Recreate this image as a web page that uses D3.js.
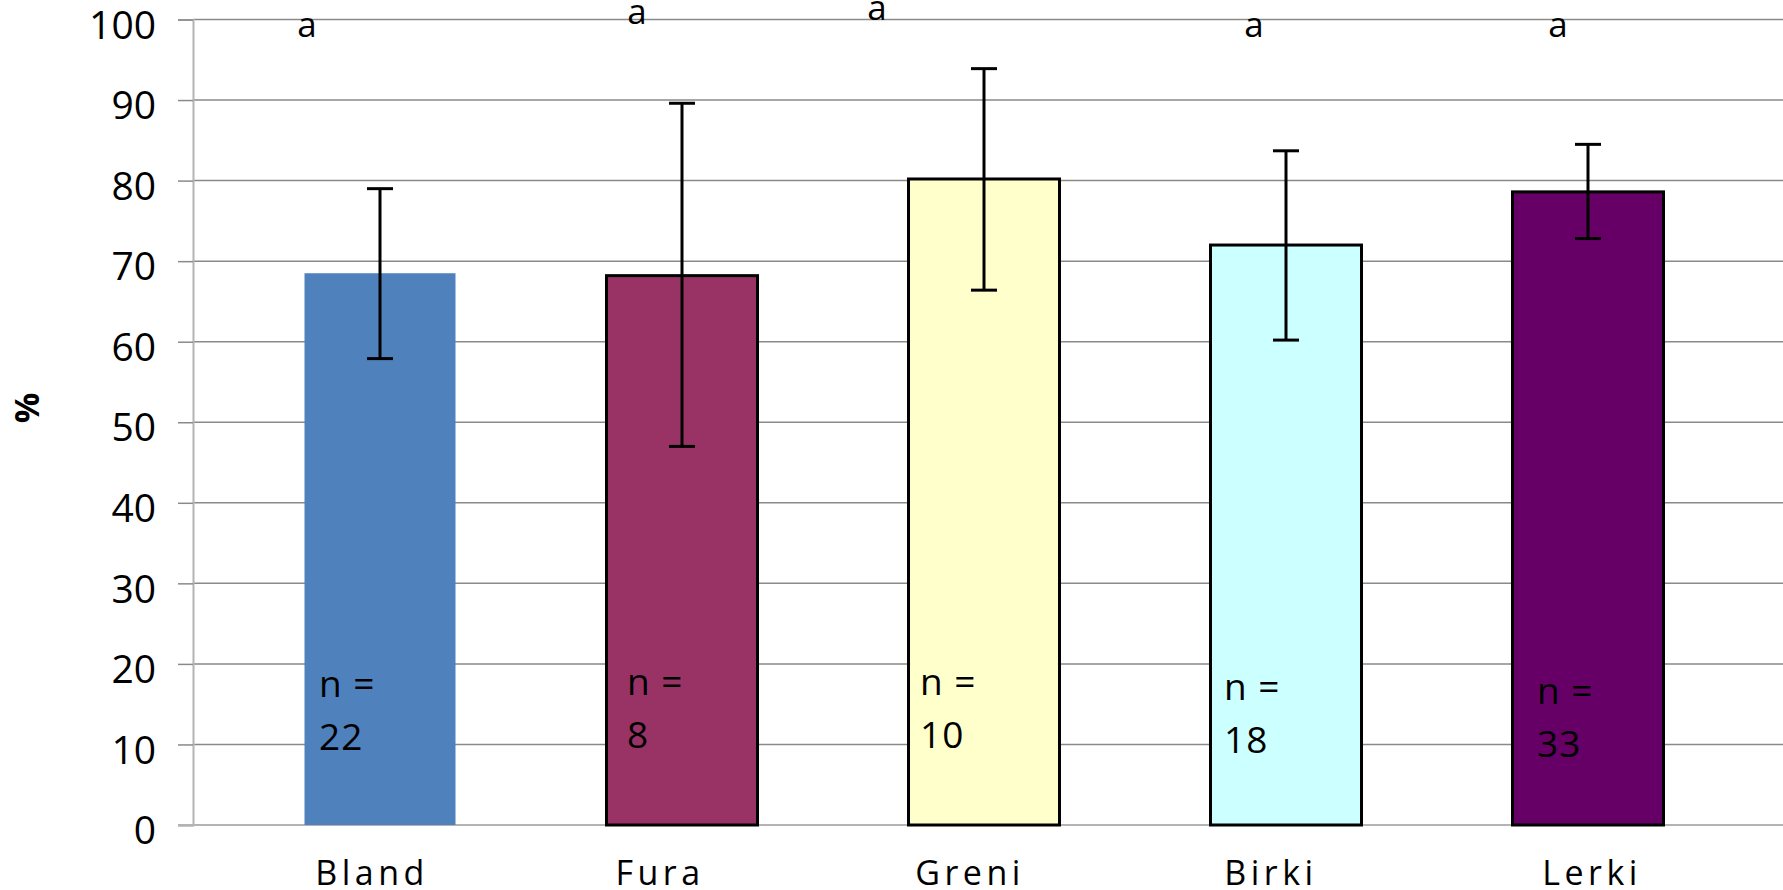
<!DOCTYPE html>
<html>
<head>
<meta charset="utf-8">
<script src="https://cdn.jsdelivr.net/npm/d3@7"></script>
<style>
  html, body { margin: 0; padding: 0; background: #fff; overflow: hidden; }
  svg { display: block; }
  text { font-family: "Open Sans", "DejaVu Sans", sans-serif; fill: #000; }
</style>
</head>
<body>
<svg id="chart" width="1783" height="890"></svg>
<script>
// ---- data ----
const categories = ["Bland", "Fura", "Greni", "Birki", "Lerki"];
const means      = [68.5, 68.2, 80.2, 72.0, 78.6];
const errLow     = [57.9, 47.0, 66.4, 60.2, 72.8];
const errHigh    = [79.0, 89.6, 93.9, 83.7, 84.5];
const sampleN    = ["22", "8", "10", "18", "33"];
const letters    = ["a", "a", "a", "a", "a"];
const fills      = ["#4F81BD", "#993366", "#FFFFCC", "#CCFFFF", "#660066"];
const outlined   = [false, true, true, true, true];
const yTicks     = [0, 10, 20, 30, 40, 50, 60, 70, 80, 90, 100];
const yTitle     = "%";
// annotation placement (label boxes placed freely in the original)
const letterDx   = [-73, -45, -107, -32, -30];
const letterY    = [97.8, 99.4, 99.9, 97.8, 97.8];
const nY         = [15.9, 16.1, 16.1, 15.5, 15.0];
const nDx        = [-61, -55, -64, -62, -51];
const labelDx    = [-8, -22, -14, -15, 4];

const svg = d3.select("#chart");
const plotLeft = 193, plotRight = 1783, yTop = 19.5, yBottom = 825;

const x = d3.scaleBand().domain(categories).range([229, 1739]).paddingInner(0.5).paddingOuter(0.25);
const y = d3.scaleLinear().domain([0, 100]).range([yBottom, yTop]);

// gridlines
svg.append("g").selectAll("line").data(yTicks.filter(t => t > 0)).join("line")
  .attr("x1", plotLeft).attr("x2", plotRight)
  .attr("y1", d => y(d)).attr("y2", d => y(d))
  .attr("stroke", "#8a8a8a").attr("stroke-width", 1.5);

// y axis
const yAxis = d3.axisLeft(y).tickValues(yTicks).tickSize(15).tickPadding(22).tickFormat(d3.format("d"));
const gy = svg.append("g").attr("transform", `translate(${plotLeft},0)`).call(yAxis);
gy.select(".domain").attr("stroke", "#b4b4b4").attr("stroke-width", 2);
gy.selectAll(".tick line").attr("stroke", "#8a8a8a").attr("stroke-width", 1.5);
gy.selectAll(".tick text").attr("font-size", 39).attr("font-family", "'Open Sans', sans-serif").attr("dy", "0.48em");

// x axis line
svg.append("line").attr("x1", plotLeft - 15).attr("x2", plotRight)
  .attr("y1", y(0)).attr("y2", y(0)).attr("stroke", "#b4b4b4").attr("stroke-width", 2);

// bars
svg.append("g").selectAll("rect").data(categories).join("rect")
  .attr("x", d => x(d)).attr("width", x.bandwidth())
  .attr("y", (d, i) => y(means[i])).attr("height", (d, i) => y(0) - y(means[i]))
  .attr("fill", (d, i) => fills[i])
  .attr("stroke", (d, i) => outlined[i] ? "#000" : "none")
  .attr("stroke-width", 3);

// error bars
const eb = svg.append("g").attr("stroke", "#000").attr("stroke-width", 3);
categories.forEach((c, i) => {
  const cx = x(c) + x.bandwidth() / 2;
  eb.append("line").attr("x1", cx).attr("x2", cx).attr("y1", y(errLow[i])).attr("y2", y(errHigh[i]));
  eb.append("line").attr("x1", cx - 13).attr("x2", cx + 13).attr("y1", y(errLow[i])).attr("y2", y(errLow[i]));
  eb.append("line").attr("x1", cx - 13).attr("x2", cx + 13).attr("y1", y(errHigh[i])).attr("y2", y(errHigh[i]));
});

// significance letters
svg.append("g").selectAll("text").data(categories).join("text")
  .attr("x", (d, i) => x(d) + x.bandwidth() / 2 + letterDx[i])
  .attr("y", (d, i) => y(letterY[i]))
  .attr("font-size", 35).attr("text-anchor", "middle")
  .text((d, i) => letters[i]);

// n labels
categories.forEach((c, i) => {
  const lx = x(c) + x.bandwidth() / 2 + nDx[i];
  const t = svg.append("text").attr("x", lx).attr("y", y(nY[i])).attr("font-size", 37).attr("letter-spacing", 1);
  t.append("tspan").attr("x", lx).text("n =");
  t.append("tspan").attr("x", lx).attr("dy", 53).text(sampleN[i]);
});

// category labels
svg.append("g").selectAll("text").data(categories).join("text")
  .attr("x", (d, i) => x(d) + x.bandwidth() / 2 + labelDx[i])
  .attr("y", 885)
  .attr("font-size", 34).attr("letter-spacing", 4.5).attr("text-anchor", "middle")
  .text(d => d);

// y title
svg.append("text").attr("transform", `translate(39,408) rotate(-90)`)
  .attr("text-anchor", "middle").attr("font-size", 34).attr("font-weight", "bold")
  .text(yTitle);
</script>
</body>
</html>
